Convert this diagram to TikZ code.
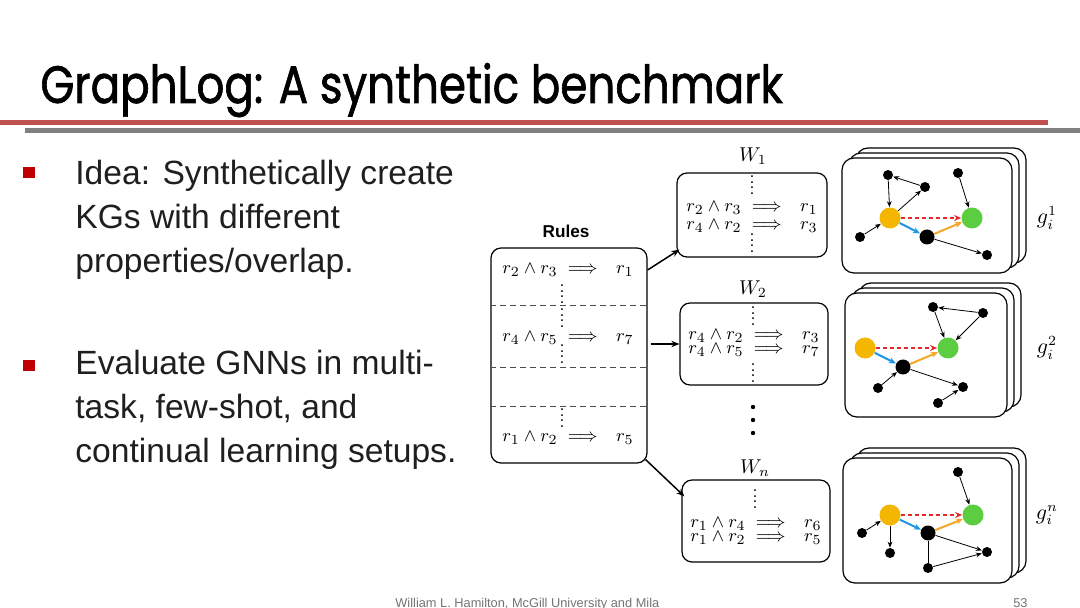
\documentclass[tikz,border=0pt]{standalone}
\usepackage{amsmath, amssymb}
\usepackage[no-math]{fontspec}
\setmainfont{Liberation Sans}
\newfontfamily\titlefont[FakeStretch=0.83, FakeBold=1.2]{Poppins}
\usetikzlibrary{arrows.meta, positioning}
\definecolor{slidered}{RGB}{192,80,77}
\definecolor{slidegray}{RGB}{128,128,128}
\definecolor{bulletred}{RGB}{192,0,0}
\definecolor{nodeorange}{RGB}{245,182,0}
\definecolor{nodegreen}{RGB}{92,204,64}
\definecolor{edgeblue}{RGB}{30,150,230}
\definecolor{edgeorange}{RGB}{245,168,40}
\definecolor{edgered}{RGB}{232,40,40}
\newcommand{\rul}[3]{$r_{#1}\wedge r_{#2}\;\Longrightarrow\;\;\, r_{#3}$}
\newcommand{\vd}{\vbox{\baselineskip2.8pt\lineskiplimit0pt\hbox{.}\hbox{.}\hbox{.}\hbox{.}}}

\begin{document}
\begin{tikzpicture}[x=0.5pt, y=-0.5pt, >=Stealth,
  rbox/.style={draw, rounded corners=5pt, line width=0.6pt, inner sep=0pt},
  card/.style={draw, fill=white, rounded corners=6pt, line width=0.6pt, inner sep=0pt},
  rl/.style={inner sep=0pt, font=\fontsize{9.5}{10}\selectfont},
  dt/.style={inner sep=0pt, font=\fontsize{8}{8}\selectfont},
  bk/.style={circle, fill=black, inner sep=0pt, minimum size=5pt},
  bkb/.style={bk, minimum size=7.5pt},
  yel/.style={circle, fill=nodeorange, inner sep=0pt, minimum size=10.5pt},
  grn/.style={circle, fill=nodegreen, inner sep=0pt, minimum size=10.5pt},
  ed/.style={->, line width=0.4pt, >={Stealth[length=3pt, width=2.4pt]}},
  blu/.style={->, edgeblue, line width=1pt, >={Stealth[length=3.5pt, width=3pt]}},
  org/.style={->, edgeorange, line width=1pt, >={Stealth[length=3.5pt, width=3pt]}},
  rdd/.style={->, edgered, line width=1pt, dash pattern=on 2pt off 1.5pt, >={Stealth[length=3.5pt, width=3pt]}},
  bigar/.style={->, line width=0.75pt, >={Stealth[length=4pt, width=3.2pt]}},
  txt/.style={inner sep=0pt, anchor=base west, align=left, text=black!88,
    font=\fontsize{16.8}{22}\selectfont}]
  \useasboundingbox (0,0) rectangle (1080,608);

  % title and rules under it
  \node[inner sep=0pt, anchor=base west, font=\titlefont\fontsize{26.3}{28}\selectfont] (title) at (40,103) {GraphLog: A synthetic benchmark};
  \fill[slidered] (0,120) rectangle (1048,125);
  \fill[slidegray] (25,128) rectangle (1080,133);

  % bullets (base anchor sits on the last line)
  \fill[bulletred] (23,167) rectangle (35,178);
  \fill[bulletred] (23,360) rectangle (35,371);
  \node[txt] (idea) at (75,273) {Idea: Synthetically create\\KGs with different\\properties/overlap.};
  \node[txt] (eval) at (75,463) {Evaluate GNNs in multi-\\task, few-shot, and\\continual learning setups.};

  % footer
  \node[inner sep=0pt, anchor=base west, text=black!55, font=\fontsize{6.4}{7}\selectfont] (foot) at (395,607) {William L. Hamilton, McGill University and Mila};
  \node[inner sep=0pt, anchor=base east, text=black!55, font=\fontsize{6.4}{7}\selectfont] (page) at (1028,607) {53};

  % rules box
  \node[inner sep=0pt, font=\bfseries\fontsize{8.6}{9}\selectfont] (rtitle) at (566,231) {Rules};
  \node[rbox, minimum width=78pt, minimum height=107.5pt] (rules) at (569,355.5) {};
  \draw[densely dashed, line width=0.4pt, black!70] (rules.west |- 0,305) -- (rules.east |- 0,305);
  \draw[densely dashed, line width=0.4pt, black!70] (rules.west |- 0,367) -- (rules.east |- 0,367);
  \draw[densely dashed, line width=0.4pt, black!70] (rules.west |- 0,406) -- (rules.east |- 0,406);
  \node[rl] (ru1) at (568,270) {\rul{2}{3}{1}};
  \node[dt] at (562,294) {\vd};
  \node[dt] at (562,318) {\vd};
  \node[rl] (ru2) at (568,338) {\rul{4}{5}{7}};
  \node[dt] at (562,354) {\vd};
  \node[dt] at (562,418) {\vd};
  \node[rl] (ru3) at (568,438) {\rul{1}{2}{5}};

  % W boxes
  \node[inner sep=0pt, font=\fontsize{10}{10}\selectfont] (lw1) at (753,156) {$W_1$};
  \node[rbox, minimum width=75pt, minimum height=42pt] (w1) at (752,215) {};
  \node[dt] at (752,185) {\vd};
  \node[rl] (w1a) at (752,208) {\rul{2}{3}{1}};
  \node[rl] (w1b) at (752,226) {\rul{4}{2}{3}};
  \node[dt] at (752,243) {\vd};

  \node[inner sep=0pt, font=\fontsize{10}{10}\selectfont] (lw2) at (753,289) {$W_2$};
  \node[rbox, minimum width=74pt, minimum height=41pt] (w2) at (754,344) {};
  \node[dt] at (753,316) {\vd};
  \node[rl] (w2a) at (754,336) {\rul{4}{2}{3}};
  \node[rl] (w2b) at (754,350) {\rul{4}{5}{7}};
  \node[dt] at (753,373) {\vd};

  \foreach \yy in {407,420,433} \fill (753,\yy) circle (1.1pt);

  \node[inner sep=0pt, font=\fontsize{10}{10}\selectfont] (lwn) at (755,468) {$W_n$};
  \node[rbox, minimum width=74pt, minimum height=41pt] (wn) at (756,521) {};
  \node[dt] at (755,499) {\vd};
  \node[rl] (wna) at (756,524) {\rul{1}{4}{6}};
  \node[rl] (wnb) at (756,538) {\rul{1}{2}{5}};

  \draw[bigar] (rules.east |- ru1) -- ([xshift=1.5pt, yshift=4pt]w1.south west);
  \draw[bigar] ([xshift=1.5pt]rules.east |- w2) -- (w2.west);
  \draw[bigar] ([xshift=-1pt, yshift=2pt]rules.south east) -- ([xshift=1.5pt, yshift=-8.5pt]wn.north west);

  % graph stack 1
  \node[card, minimum width=85pt, minimum height=57.5pt] (s1c) at (941,205.5) {};
  \node[card, minimum width=85pt, minimum height=57.5pt] (s1b) at (934,210.5) {};
  \node[card, minimum width=85pt, minimum height=57.5pt] (s1a) at (927,215.5) {};
  \node[bk] (a1) at (888,175) {};
  \node[bk] (b1) at (925,187) {};
  \node[bk] (c1) at (958,173) {};
  \node[yel] (y1) at (890,218) {};
  \node[grn] (g1) at (972,218) {};
  \node[bk] (d1) at (860,237) {};
  \node[bkb] (e1) at (927,237) {};
  \node[bk] (f1) at (987,255) {};
  \draw[ed] (a1) -- (y1);
  \draw[ed] (b1) -- (a1);
  \draw[ed] (y1) -- (b1);
  \draw[ed] (c1) -- (g1);
  \draw[ed] (d1) -- (y1);
  \draw[ed] (e1) -- (f1);
  \draw[blu] (y1) -- (e1);
  \draw[org] (e1) -- (g1);
  \draw[rdd] (y1) -- (g1);
  \node[inner sep=0pt, font=\fontsize{10.5}{11}\selectfont] (l1) at (1047,218) {$g_i^1$};

  % graph stack 2
  \node[card, minimum width=81pt, minimum height=62pt] (s2c) at (940,345) {};
  \node[card, minimum width=81pt, minimum height=62pt] (s2b) at (933,350) {};
  \node[card, minimum width=81pt, minimum height=62pt] (s2a) at (926,355) {};
  \node[bk] (a2) at (933,307) {};
  \node[bk] (b2) at (983,313) {};
  \node[yel] (y2) at (865,348) {};
  \node[grn] (g2) at (948,348) {};
  \node[bkb] (e2) at (903,367) {};
  \node[bk] (d2) at (878,388) {};
  \node[bk] (f2) at (963,387) {};
  \node[bk] (h2) at (938,403) {};
  \draw[ed] (b2) -- (a2);
  \draw[ed] (a2) -- (g2);
  \draw[ed] (b2) -- (g2);
  \draw[ed] (d2) -- (e2);
  \draw[ed] (e2) -- (f2);
  \draw[ed] (h2) -- (f2);
  \draw[blu] (y2) -- (e2);
  \draw[org] (e2) -- (g2);
  \draw[rdd] (y2) -- (g2);
  \node[inner sep=0pt, font=\fontsize{10.5}{11}\selectfont] (l2) at (1047,348) {$g_i^2$};

  % graph stack 3
  \node[card, minimum width=84.5pt, minimum height=62.5pt] (s3c) at (941.5,510.5) {};
  \node[card, minimum width=84.5pt, minimum height=62.5pt] (s3b) at (934.5,515.5) {};
  \node[card, minimum width=84.5pt, minimum height=62.5pt] (s3a) at (927.5,520.5) {};
  \node[bk] (c3) at (958,472) {};
  \node[yel] (y3) at (890,515) {};
  \node[grn] (g3) at (973,515) {};
  \node[bk] (d3) at (862,533) {};
  \node[bkb] (e3) at (928,533) {};
  \node[bk] (i3) at (890,553) {};
  \node[bk] (f3) at (987,552) {};
  \node[bk] (h3) at (928,568) {};
  \draw[ed] (c3) -- (g3);
  \draw[ed] (d3) -- (y3);
  \draw[ed] (y3) -- (i3);
  \draw[ed] (e3) -- (f3);
  \draw[line width=0.4pt] (e3) -- (h3);
  \draw[ed] (h3) -- (f3);
  \draw[blu] (y3) -- (e3);
  \draw[org] (e3) -- (g3);
  \draw[rdd] (y3) -- (g3);
  \node[inner sep=0pt, font=\fontsize{10.5}{11}\selectfont] (l3) at (1047,515) {$g_i^n$};
\end{tikzpicture}
\end{document}
